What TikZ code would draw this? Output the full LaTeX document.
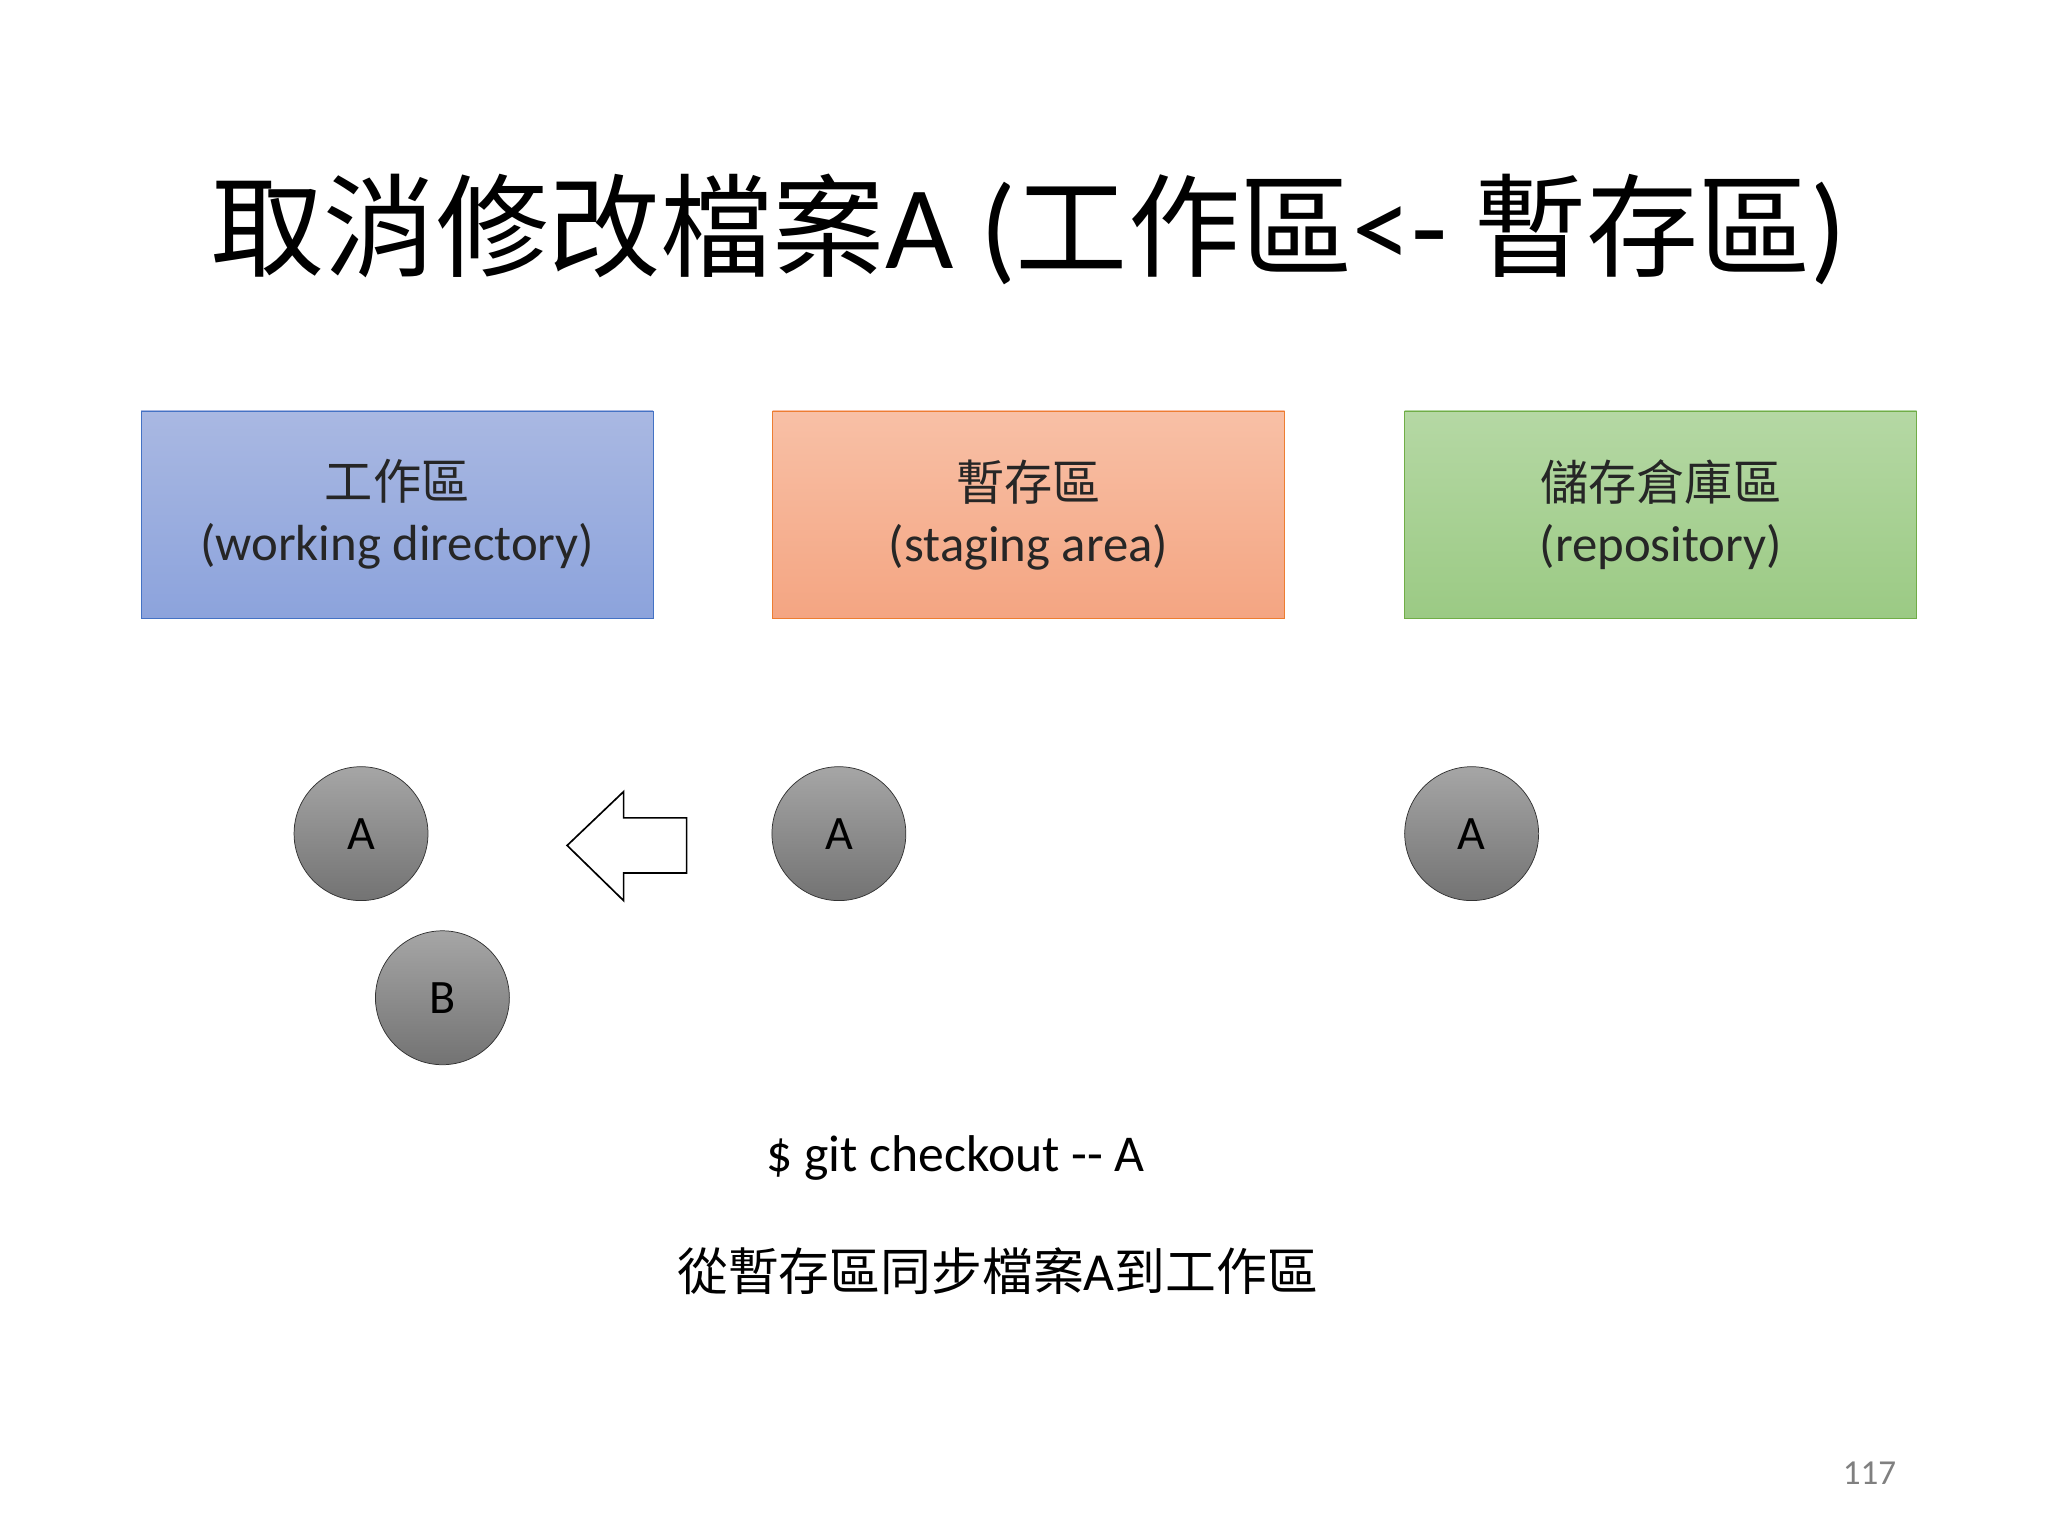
\documentclass[tikz,border=0pt]{standalone}
\usepackage{fontspec}
\setmainfont{Carlito}
\newfontfamily\cjk{Noto Sans CJK TC}[Scale=0.95]
\definecolor{bA}{HTML}{A9B8E2}\definecolor{bB}{HTML}{8CA3DC}\definecolor{bL}{HTML}{4472C4}
\definecolor{oA}{HTML}{F8C0A6}\definecolor{oB}{HTML}{F4A582}\definecolor{oL}{HTML}{ED7D31}
\definecolor{gA}{HTML}{B5D8A4}\definecolor{gB}{HTML}{9BCA84}\definecolor{gL}{HTML}{70AD47}
\begin{document}
\begin{tikzpicture}[x=0.25mm,y=-0.25mm,
  area/.style={minimum width=97.5mm,minimum height=39.5mm,font=\fontsize{27.5}{33}\selectfont,align=center,text=black!85},
  file/.style={circle,draw=black!80,minimum size=25.5mm,inner sep=0pt,top color=black!35,bottom color=black!55,font=\fontsize{26}{30}\selectfont,text=black},
  lbl/.style={font=\fontsize{28}{32}\selectfont}]
\fill[white] (0,0) rectangle (1560,1170);
\useasboundingbox (0,0) rectangle (1560,1170);
\node[font=\fontsize{64}{74}\selectfont] (title) at (784,175) {{\cjk 取消修改檔案}A ({\cjk 工作區}<- {\cjk 暫存區})};
\node[area,draw=bL,top color=bA,bottom color=bB] (wd) at (302.5,392) {{\cjk 工作區}\\(working directory)};
\node[area,draw=oL,top color=oA,bottom color=oB] (st) at (783.5,392) {{\cjk 暫存區}\\(staging area)};
\node[area,draw=gL,top color=gA,bottom color=gB] (rp) at (1265,392) {{\cjk 儲存倉庫區}\\(repository)};
\node[file] (a1) at (275,635) {A};
\node[file] (b1) at (337,760) {B};
\node[file] (a2) at (639,635) {A};
\node[file] (a3) at (1121,635) {A};
\draw[black,line width=0.9pt,fill=white] (432,644) -- (475,603) -- (475,623) -- (523,623) -- (523,665) -- (475,665) -- (475,686) -- cycle;
\node[lbl] (cmd) at (728,882) {\$ git checkout -{}- A};
\node[lbl,font=\fontsize{29}{33}\selectfont] (desc) at (760,968) {{\cjk 從暫存區同步檔案}A{\cjk 到工作區}};
\node[font=\fontsize{19}{23}\selectfont,text=black!50] (pg) at (1424,1122) {117};
\end{tikzpicture}
\end{document}
